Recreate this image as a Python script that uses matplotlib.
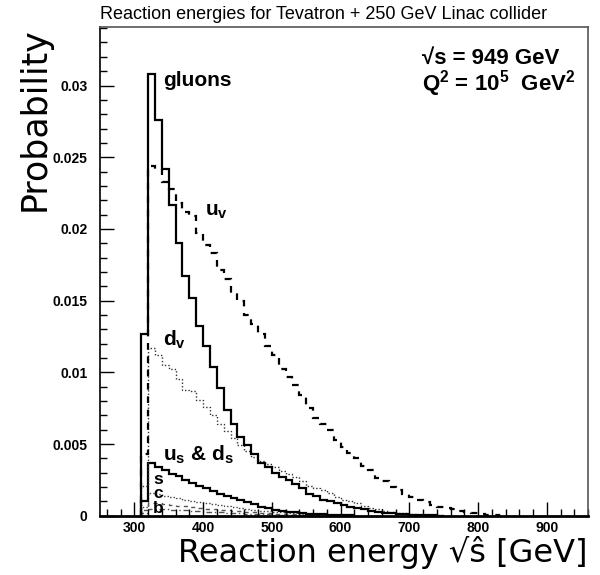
import numpy as np
import matplotlib
matplotlib.use('Agg')
import matplotlib.pyplot as plt
from matplotlib.ticker import MultipleLocator, FuncFormatter

plt.rcParams['font.family'] = ['Liberation Sans', 'DejaVu Sans']
plt.rcParams['mathtext.fontset'] = 'custom'
plt.rcParams['mathtext.rm'] = 'Liberation Sans'
plt.rcParams['mathtext.bf'] = 'Liberation Sans:bold'

# 10 GeV bins starting at 310 GeV
BIN_LO, BIN_W = 310, 10

gluons = [0.0127, 0.0308, 0.0276, 0.0242, 0.0217, 0.0190, 0.0167, 0.0152, 0.0132, 0.0118,
          0.0104, 0.0089, 0.0074, 0.0064, 0.0055, 0.0049, 0.0043, 0.0037, 0.0034, 0.0030,
          0.0027, 0.0025, 0.0022, 0.0019, 0.0015, 0.0014, 0.0011, 0.0010, 0.00086, 0.00075,
          0.00063, 0.00052, 0.00045, 0.00035, 0.00028, 0.00021, 0.00016, 0.00012, 0.00009, 0.00007,
          0.00005, 0.00003, 0.00002, 0.00001]
u_val = [0.0043, 0.0244, 0.0242, 0.0233, 0.0228, 0.0218, 0.0212, 0.0209, 0.0197, 0.0189,
         0.0183, 0.0171, 0.0165, 0.0155, 0.0150, 0.0140, 0.0134, 0.0127, 0.0118, 0.0112,
         0.0102, 0.0097, 0.0091, 0.0084, 0.0075, 0.0068, 0.0064, 0.0060, 0.0053, 0.0048,
         0.0044, 0.0040, 0.0035, 0.0032, 0.0026, 0.0024, 0.0020, 0.0018, 0.0015, 0.0013,
         0.0011, 0.00098, 0.00075, 0.00063, 0.00052, 0.00045, 0.00035, 0.00028, 0.00021, 0.00012,
         0.00005, 0.00003, 0.00001]
d_val = [0.0021, 0.0117, 0.0112, 0.0105, 0.0102, 0.0095, 0.0088, 0.0087, 0.0081, 0.0076,
         0.0070, 0.0064, 0.0059, 0.0054, 0.0049, 0.0045, 0.0041, 0.0038, 0.0036, 0.0034,
         0.0031, 0.0029, 0.0027, 0.0024, 0.0021, 0.0019, 0.0018, 0.0016, 0.0013, 0.0011,
         0.0010, 0.00086, 0.0007, 0.00052, 0.00045, 0.00035, 0.00028, 0.00021, 0.00016, 0.00012,
         0.00008, 0.00005, 0.00003, 0.00002]
us_ds = [0.0010, 0.0037, 0.0034, 0.0032, 0.0029, 0.0028, 0.0025, 0.0023, 0.0021, 0.0019,
         0.0017, 0.0015, 0.0014, 0.0012, 0.0011, 0.00094, 0.0008, 0.00064, 0.00052, 0.0004,
         0.00033, 0.00028, 0.00023, 0.00019, 0.00015, 0.00012, 0.00009, 0.00007, 0.00005, 0.00003,
         0.00002]
s_sea = [0.0006, 0.0016, 0.0015, 0.0014, 0.0013, 0.0012, 0.0011, 0.0010, 0.00095, 0.00088,
         0.0008, 0.00073, 0.00066, 0.0006, 0.00053, 0.00047, 0.00042, 0.00036, 0.00031, 0.00027,
         0.00023, 0.00019, 0.00016, 0.00013, 0.0001, 0.00008, 0.00006, 0.00004, 0.00003, 0.00002]
c_sea = [0.0004, 0.0009, 0.00086, 0.0008, 0.00075, 0.0007, 0.00065, 0.0006, 0.00055, 0.0005,
         0.00046, 0.00042, 0.00038, 0.00034, 0.0003, 0.00027, 0.00024, 0.00021, 0.00018, 0.00015,
         0.00013, 0.00011, 0.00009, 0.00007, 0.00005, 0.00004, 0.00003, 0.00002]
b_sea = [0.0002, 0.0005, 0.00048, 0.00045, 0.00042, 0.0004, 0.00037, 0.00034, 0.00031, 0.00028,
         0.00026, 0.00023, 0.00021, 0.00019, 0.00017, 0.00015, 0.00013, 0.00011, 0.00009, 0.00007,
         0.00006, 0.00005, 0.00004, 0.00003, 0.00002]


def edges_for(vals):
    return BIN_LO + BIN_W * np.arange(len(vals) + 1)


fig = plt.figure(figsize=(6, 5.75), dpi=100)
ax = fig.add_axes([100 / 600, 1 - 515.7 / 575, 488 / 600, 488.7 / 575])

ax.stairs(b_sea, edges_for(b_sea), color='#555555', lw=1.0, ls=(0, (4, 2, 1, 2)))
ax.stairs(c_sea, edges_for(c_sea), color='#555555', lw=1.0, ls=(0, (3, 3)))
ax.stairs(s_sea, edges_for(s_sea), color='#444444', lw=1.0, ls=(0, (1, 1.5)))
ax.stairs(us_ds, edges_for(us_ds), color='black', lw=1.6)
ax.stairs(d_val, edges_for(d_val), color='#333333', lw=1.0, ls=(0, (1, 1.5)))
ax.stairs(u_val, edges_for(u_val), color='black', lw=1.6, ls=(0, (3, 3)))
ax.stairs(gluons, edges_for(gluons), color='black', lw=1.6)

ax.set_xlim(250, 960)
ax.set_ylim(0, 0.03408)
ax.xaxis.set_major_locator(MultipleLocator(100))
ax.xaxis.set_minor_locator(MultipleLocator(20))
ax.yaxis.set_major_locator(MultipleLocator(0.005))
ax.yaxis.set_minor_locator(MultipleLocator(0.001))
ax.yaxis.set_major_formatter(FuncFormatter(lambda v, p: f'{v:g}'))
ax.tick_params(which='both', direction='in', top=False, right=False)
ax.tick_params(which='major', length=10, width=1)
ax.tick_params(which='minor', length=5, width=1)
ax.tick_params(axis='y', pad=9, labelsize=10)
ax.tick_params(axis='x', pad=4, labelsize=10)
for lab in ax.get_xticklabels() + ax.get_yticklabels():
    lab.set_fontweight('bold')
ax.spines['bottom'].set_linewidth(2)
ax.spines['left'].set_linewidth(1.2)
for side in ('top', 'right'):
    ax.spines[side].set_linewidth(1.2)
    ax.spines[side].set_color('#555555')

ax.set_xlabel('Reaction energy √ŝ [GeV]', loc='right', fontsize=23,
              family=['DejaVu Sans'])
ax.xaxis.set_label_coords(1.0, -0.075)
ax.xaxis.label.set_va('center')
ax.set_ylabel('Probability', loc='top', fontsize=25, family=['DejaVu Sans'])
ax.yaxis.set_label_coords(-0.1, 1.0)

fig.text(100 / 600, 1 - 19 / 575, 'Reaction energies for Tevatron + 250 GeV Linac collider',
         fontsize=13, va='baseline', ha='left')

kw = dict(fontsize=15, fontweight='bold', va='center', ha='left')
ax.text(341.7, 0.03038, 'gluons', **kw)
ax.text(402.8, 0.02118, r'u$_{\mathbf{v}}$', **kw)
ax.text(341.7, 0.01226, r'd$_{\mathbf{v}}$', **kw)
ax.text(341.7, 0.00423, r'u$_{\mathbf{s}}$ & d$_{\mathbf{s}}$', **kw)
kw_small = dict(fontsize=12.5, fontweight='bold', va='center', ha='left')
ax.text(327, 0.00255, 's', **kw_small)
ax.text(327, 0.00155, 'c', **kw_small)
ax.text(327, 0.00050, 'b', **kw_small)

ax.text(0.66, 0.9243, '√s = 949 GeV', transform=ax.transAxes, fontsize=16,
        fontweight='bold', va='baseline', ha='left')
ax.text(0.66, 0.871, r'Q$^{\mathbf{2}}$ = 10$^{\mathbf{5}}$  GeV$^{\mathbf{2}}$',
        transform=ax.transAxes, fontsize=16, fontweight='bold', va='baseline', ha='left')

fig.savefig('out.png', dpi=100)
